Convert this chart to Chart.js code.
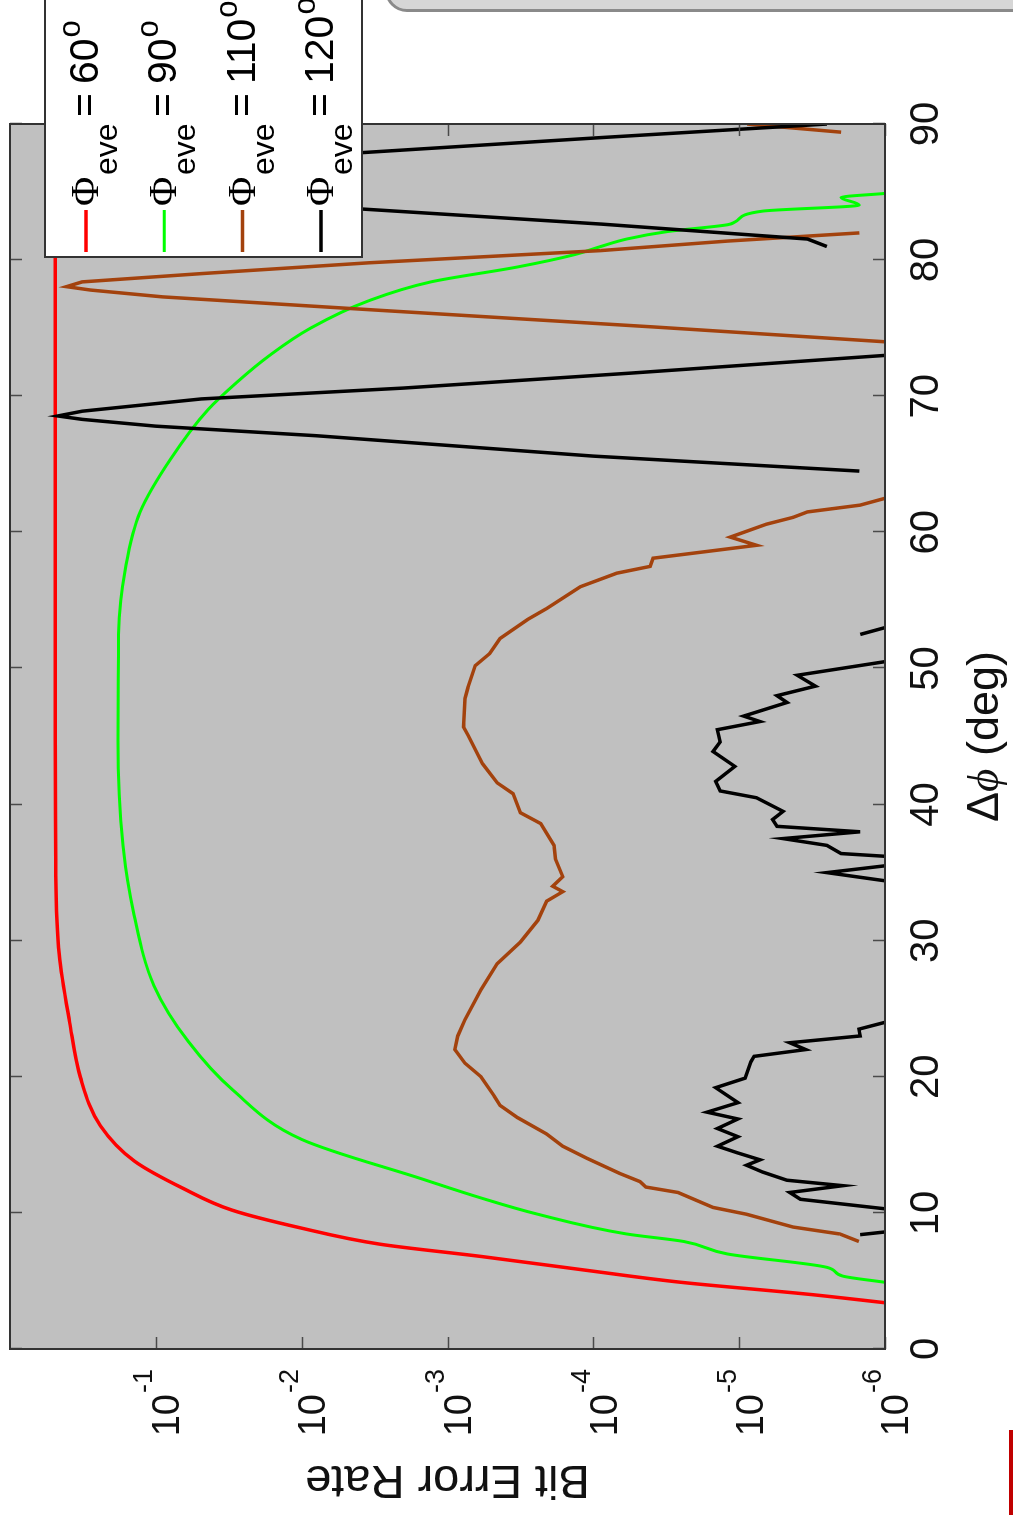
<!DOCTYPE html>
<html>
<head>
<meta charset="utf-8">
<script src="https://cdn.jsdelivr.net/npm/chart.js@4.4.1/dist/chart.umd.min.js"></script>
<style>
  html, body { margin: 0; padding: 0; background: #fff; overflow: hidden; }
  body { width: 1013px; height: 1515px; position: relative; }
  /* the figure is laid out landscape and turned a quarter turn counter-clockwise */
  #figure {
    position: absolute; left: 0; top: 0;
    width: 1515px; height: 1013px;
    transform-origin: 0 0;
    transform: translate(0px, 1515px) rotate(-90deg);
    overflow: hidden; background: #fff;
  }
  #plot { position: absolute; left: 0; top: 0; }
  #tab { position: absolute; left: 385px; top: -32px; width: 700px; height: 38px;
         background: #d6d6d6; border: 3px solid #8a8a8a; border-radius: 26px; }
  #edge { position: absolute; left: 1009px; top: 1430px; width: 4px; height: 85px; background: #c00000; }
</style>
</head>
<body>
<div id="figure"><canvas id="plot" width="1515" height="1013"></canvas></div>
<div id="tab"></div>
<div id="edge"></div>
<script>
// Eve's analyser angle for each curve
const eveAngles = ['60', '90', '110', '120'];
const seriesColors = ['#ff0000', '#00ff00', '#a3420d', '#000000'];

// Axis ticks
const xTicks = [0, 10, 20, 30, 40, 50, 60, 70, 80, 90];
const yTickExps = [-1, -2, -3, -4, -5, -6];

// Phi_eve = 60 deg
const dphi60 = [3.4, 4.0, 4.9, 5.8, 6.8, 7.7, 8.9, 10.2, 11.8, 13.8, 16.4, 20.0, 24.0, 29.0, 35.0, 45.0, 60.0, 75.0, 90.0];
const ber60  = [1.0e-6, 3.2e-6, 2.5e-5, 1.15e-4, 5.9e-4, 2.9e-3, 1.02e-2, 3.0e-2, 6.5e-2, 0.14, 0.24, 0.33, 0.39, 0.46, 0.485, 0.49, 0.49, 0.49, 0.49];

// Phi_eve = 90 deg
const dphi90 = [4.9, 5.36, 6.0, 6.98, 7.9, 8.45, 9.9, 11.1, 12.5, 15.4, 19.0, 22.6, 26.7, 31.9, 37.0, 44.7, 52.5, 57.6, 61.5, 65.4,
                69.0, 71.0, 73.0, 75.0, 77.0, 78.4, 79.5, 80.4, 81.0, 81.55, 82.1, 82.6, 82.8, 83.6, 84.05, 84.6, 84.9];
const ber90  = [1.0e-6, 1.95e-6, 2.5e-6, 1.2e-5, 2.4e-5, 5.9e-5, 2.4e-4, 5.9e-4, 1.5e-3, 1.0e-2, 2.95e-2, 6.0e-2, 0.103, 0.141, 0.168, 0.182, 0.18, 0.16, 0.128, 0.079,
                0.044, 0.028, 0.0166, 8.7e-3, 3.5e-3, 1.3e-3, 3.3e-4, 1.35e-4, 8.9e-5, 5.9e-5, 3.1e-5, 1.2e-5, 1.07e-5, 6.9e-6, 1.5e-6, 2.0e-6, 1.0e-6];

// Phi_eve = 110 deg (null marks a break in the curve)
const dphi110 = [7.9, 8.45, 8.96, 9.9, 10.4, 11.5, 11.9, 12.3, 12.9, 14.0, 14.9, 15.8, 17.0, 17.9, 18.6, 20.0, 21.0, 22.0, 23.0, 24.2,
                 26.4, 28.3, 29.9, 31.5, 32.9, 33.6, 34.0, 34.7, 36.0, 37.0, 38.6, 39.4, 40.8, 41.6, 43.0, 45.1, 45.7, 47.8, 48.6, 50.2,
                 51.1, 52.2, 53.6, 54.4, 56.0, 57.0, 57.5, 58.1, 59.05, 59.65, 60.6, 61.1, 61.5, 62.0, 62.5, null,
                 74.0, 75.1, 76.3, 77.3, 77.8, 78.05, 78.4, 79.0, 79.8, 80.7, 81.4, 82.0, null,
                 89.4, 90.0];
const ber110  = [1.51e-6, 2.04e-6, 4.27e-6, 8.9e-6, 1.51e-5, 2.63e-5, 4.37e-5, 4.79e-5, 6.6e-5, 1.10e-4, 1.62e-4, 2.09e-4, 3.31e-4, 4.37e-4, 4.79e-4, 5.89e-4, 7.59e-4, 8.9e-4, 8.5e-4, 7.59e-4,
                 5.89e-4, 4.57e-4, 3.16e-4, 2.40e-4, 2.09e-4, 1.62e-4, 1.9e-4, 1.62e-4, 1.82e-4, 1.86e-4, 2.29e-4, 3.16e-4, 3.55e-4, 4.57e-4, 5.75e-4, 7.24e-4, 7.76e-4, 7.59e-4, 7.24e-4, 6.46e-4,
                 5.13e-4, 4.37e-4, 2.82e-4, 2.09e-4, 1.23e-4, 6.9e-5, 4.07e-5, 3.89e-5, 7.6e-6, 1.15e-5, 6.5e-6, 4.27e-6, 3.4e-6, 1.48e-6, 1.0e-6, null,
                 1.0e-6, 4.0e-5, 2.8e-3, 0.09, 0.28, 0.41, 0.32, 0.05, 3.5e-3, 8.9e-5, 1.2e-5, 1.5e-6, null,
                 2.0e-6, 8.8e-6];

// Phi_eve = 120 deg (null marks a break in the curve)
const dphi120 = [8.4, 8.6, null,
                 10.3, 11.0, 11.5, 12.0, 12.4, 13.0, 13.5, 13.9, 14.4, 14.9, 15.6, 16.2, 16.9, 17.4, 18.1, 19.2, 19.9, 21.1, 21.5, 22.0, 22.5, 23.0, 23.5, 24.0, null,
                 34.4, 35.0, 35.5, null,
                 36.2, 36.4, 37.0, 37.5, 38.0, 38.4, 38.9, 39.5, 40.5, 41.0, 41.7, 42.8, 43.9, 44.6, 45.5, 46.1, 46.5, 47.5, 48.0, 48.7, 49.5, 50.5, null,
                 52.5, 53.0, null,
                 64.5, 65.6, 67.1, 67.8, 68.3, 68.55, 68.9, 69.8, 70.6, 71.7, 73.0, null,
                 81.0, 81.55, 82.65, 83.75, 85.2, 85.85, 86.5, 87.9, 89.0, 90.0];
const ber120  = [1.48e-6, 1.0e-6, null,
                 1.0e-6, 3.8e-6, 4.5e-6, 1.95e-6, 4.7e-6, 6.9e-6, 8.9e-6, 7.2e-6, 1.02e-5, 1.41e-5, 1.02e-5, 1.41e-5, 1.02e-5, 1.66e-5, 1.02e-5, 1.45e-5, 9.1e-6, 8.3e-6, 7.9e-6, 3.5e-6, 4.5e-6, 1.48e-6, 1.51e-6, 1.0e-6, null,
                 1.0e-6, 2.5e-6, 1.0e-6, null,
                 1.0e-6, 2.0e-6, 2.5e-6, 5.0e-6, 1.48e-6, 5.5e-6, 5.9e-6, 5.0e-6, 7.6e-6, 1.35e-5, 1.45e-5, 1.07e-5, 1.51e-5, 1.35e-5, 1.41e-5, 7.2e-6, 9.3e-6, 4.7e-6, 5.5e-6, 3.0e-6, 4.0e-6, 1.0e-6, null,
                 1.48e-6, 1.0e-6, null,
                 1.5e-6, 1.0e-4, 8.0e-3, 0.1, 0.32, 0.47, 0.32, 0.049, 2.0e-3, 5.5e-5, 1.0e-6, null,
                 2.5e-6, 3.4e-6, 8.9e-5, 3.8e-3, 0.45, 0.49, 0.45, 3.8e-3, 8.9e-5, 2.5e-6];

function toPoints(xs, ys) {
  let last = 0;
  return xs.map((x, i) => {
    if (x === null || ys[i] === null) return { x: last, y: null };
    last = x;
    return { x: x, y: ys[i] };
  });
}

const SANS = '"Liberation Sans", Arial, Helvetica, sans-serif';
const SERIF = '"Liberation Serif", "DejaVu Serif", serif';

const figurePlugin = {
  id: 'figureFrame',
  beforeDatasetsDraw(chart) {
    const { ctx, chartArea: a } = chart;
    ctx.save();
    ctx.fillStyle = '#c0c0c0';
    ctx.fillRect(a.left, a.top, a.right - a.left, a.bottom - a.top);
    ctx.restore();
  },
  afterDatasetsDraw(chart) {
    const { ctx, chartArea: a } = chart;
    const xs = chart.scales.x, ys = chart.scales.y;
    ctx.save();

    // inward ticks on all four sides
    ctx.strokeStyle = '#4a4a4a';
    ctx.lineWidth = 1.5;
    ctx.beginPath();
    xTicks.forEach(v => {
      const px = Math.round(xs.getPixelForValue(v)) + 0.5;
      ctx.moveTo(px, a.bottom); ctx.lineTo(px, a.bottom - 12);
      ctx.moveTo(px, a.top);    ctx.lineTo(px, a.top + 12);
    });
    yTickExps.forEach(e => {
      const py = Math.round(ys.getPixelForValue(Math.pow(10, e))) + 0.5;
      ctx.moveTo(a.left, py);  ctx.lineTo(a.left + 12, py);
      ctx.moveTo(a.right, py); ctx.lineTo(a.right - 12, py);
    });
    ctx.stroke();

    // axes box
    ctx.strokeStyle = '#333333';
    ctx.lineWidth = 2;
    ctx.strokeRect(a.left, a.top, a.right - a.left, a.bottom - a.top);

    ctx.fillStyle = '#111111';
    // x tick labels
    ctx.font = '40px ' + SANS;
    ctx.textAlign = 'center';
    ctx.textBaseline = 'middle';
    xTicks.forEach(v => ctx.fillText(String(v), xs.getPixelForValue(v), a.bottom + 42));

    // y tick labels: 10 with a raised exponent
    yTickExps.forEach(e => {
      const py = ys.getPixelForValue(Math.pow(10, e));
      ctx.font = '38px ' + SANS;
      ctx.textAlign = 'right';
      ctx.textBaseline = 'middle';
      ctx.fillText('10', 121, py + 13);
      ctx.font = '27px ' + SANS;
      ctx.textAlign = 'left';
      ctx.fillText('-' + String(-e), 122, py - 11);
    });

    // x axis title: Δϕ (deg)
    const parts = [['Δ', '45px ' + SANS], ['ϕ', 'italic 45px ' + SERIF], [' (deg)', '45px ' + SANS]];
    let total = 0;
    parts.forEach(p => { ctx.font = p[1]; total += ctx.measureText(p[0]).width; });
    let cx = (a.left + a.right) / 2 - total / 2;
    ctx.textAlign = 'left';
    ctx.textBaseline = 'middle';
    parts.forEach(p => { ctx.font = p[1]; ctx.fillText(p[0], cx, 986); cx += ctx.measureText(p[0]).width; });

    // y axis title
    ctx.save();
    ctx.translate(36, (a.top + a.bottom) / 2);
    ctx.rotate(-Math.PI / 2);
    ctx.font = '47px ' + SANS;
    ctx.textAlign = 'center';
    ctx.textBaseline = 'middle';
    ctx.fillText('Bit Error Rate', 0, 0);
    ctx.restore();

    // legend box
    const lx = 1258, ly = 45;
    ctx.fillStyle = '#ffffff';
    ctx.fillRect(lx, ly, 320, 317);
    ctx.strokeStyle = '#333333';
    ctx.lineWidth = 2;
    ctx.strokeRect(lx, ly, 320, 317);
    chart.data.datasets.forEach((ds, i) => {
      const cy = 86 + 78.3 * i;
      ctx.strokeStyle = ds.borderColor;
      ctx.lineWidth = ds.borderWidth;
      ctx.beginPath();
      ctx.moveTo(1263, cy); ctx.lineTo(1305, cy);
      ctx.stroke();
      ctx.fillStyle = '#000000';
      ctx.textAlign = 'left';
      ctx.textBaseline = 'alphabetic';
      ctx.font = '40px ' + SERIF;
      ctx.fillText('Φ', 1309, cy + 12);
      ctx.font = '32px ' + SANS;
      ctx.fillText('eve', 1340, cy + 31);
      ctx.font = '41px ' + SANS;
      ctx.fillText('=', 1398, cy + 12);
      ctx.fillText(eveAngles[i], 1431, cy + 12);
      const w = ctx.measureText(eveAngles[i]).width;
      ctx.font = '31px ' + SANS;
      ctx.fillText('o', 1431 + w + 1, cy - 6);
    });
    ctx.restore();
  }
};

const allX = [dphi60, dphi90, dphi110, dphi120];
const allY = [ber60, ber90, ber110, ber120];

new Chart(document.getElementById('plot'), {
  type: 'line',
  data: {
    datasets: eveAngles.map((ang, i) => ({
      label: 'Φeve = ' + ang + '°',
      data: toPoints(allX[i], allY[i]),
      borderColor: seriesColors[i],
      backgroundColor: seriesColors[i],
      borderWidth: i === 1 ? 3 : 3.5,
      pointRadius: 0,
      fill: false,
      spanGaps: false,
      tension: 0,
      cubicInterpolationMode: i < 2 ? 'monotone' : 'default',
      order: 4 - i
    }))
  },
  options: {
    responsive: false,
    animation: false,
    events: [],
    layout: { padding: { left: 166, right: 124, top: 10, bottom: 128 } },
    scales: {
      x: { type: 'linear', min: 0, max: 90, display: false },
      y: { type: 'logarithmic', min: 1e-6, max: 1, display: false }
    },
    plugins: { legend: { display: false }, tooltip: { enabled: false } }
  },
  plugins: [figurePlugin]
});
</script>
</body>
</html>
